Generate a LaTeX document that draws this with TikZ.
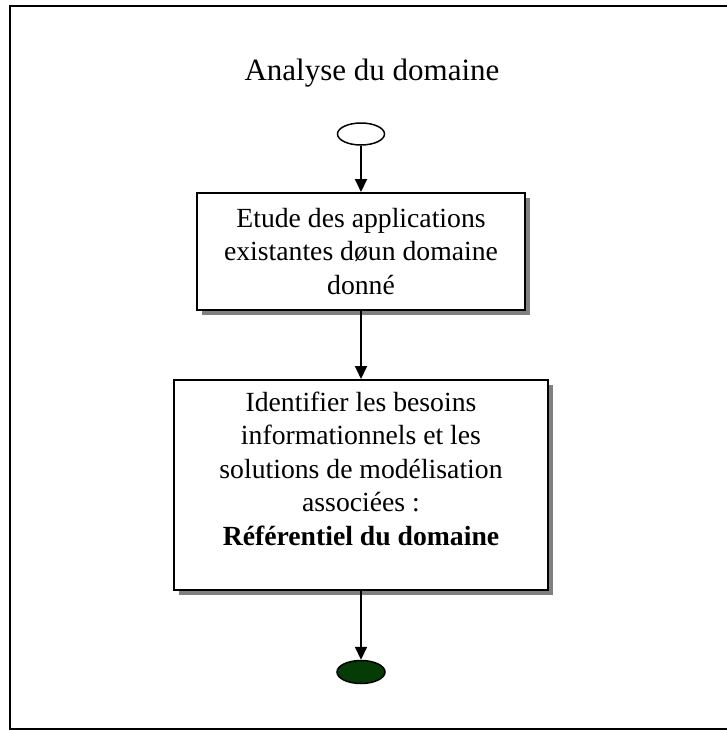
\documentclass[tikz,border=0pt]{standalone}
\usepackage{fontspec}
\setmainfont{Liberation Serif}
\usetikzlibrary{arrows.meta,shapes.geometric,shadows}
\definecolor{endgreen}{RGB}{5,60,5}
\definecolor{shadowgray}{RGB}{128,128,128}
\begin{document}
\begin{tikzpicture}[x=1pt,y=-1pt,
  txt/.style={font=\fontsize{27.7}{33.5}\selectfont},
  stepbox/.style={draw, line width=2pt, fill=white, align=center, inner sep=0pt,
    txt, drop shadow={shadow xshift=5pt, shadow yshift=-5pt, fill=shadowgray, opacity=1}},
  startnode/.style={ellipse, draw, line width=1.5pt, fill=white, inner sep=0pt,
    minimum width=47pt, minimum height=22pt},
  endnode/.style={ellipse, draw, line width=1.5pt, fill=endgreen, inner sep=0pt,
    minimum width=48pt, minimum height=23pt},
  flow/.style={line width=2pt, -{Triangle[width=12pt,length=13pt]}}]
\useasboundingbox (0,0) rectangle (726,731);
\fill[white] (0,0) rectangle (726,731);
\draw[line width=2.5pt] (727,6) -- (10,6) -- (10,729) -- (727,729);

\node[font=\fontsize{31}{36}\selectfont, anchor=base] (title) at (372,80) {Analyse du domaine};

\node[startnode] (start) at (361,134) {};
\node[stepbox, minimum width=328pt, minimum height=117pt] (etude) at (361,251.5)
  {Etude des applications\\existantes døun domaine\\donné};
\node[stepbox, minimum width=374pt, minimum height=210pt] (ident) at (361,485)
  {Identifier les besoins\\informationnels et les\\solutions de modélisation\\associées :\\\textbf{Référentiel du domaine}\\\mbox{}};
\node[endnode] (stop) at (361,672) {};

\draw[flow] (start) -- (etude);
\draw[flow] (etude) -- (ident);
\draw[flow] (ident) -- (stop);
\end{tikzpicture}
\end{document}
